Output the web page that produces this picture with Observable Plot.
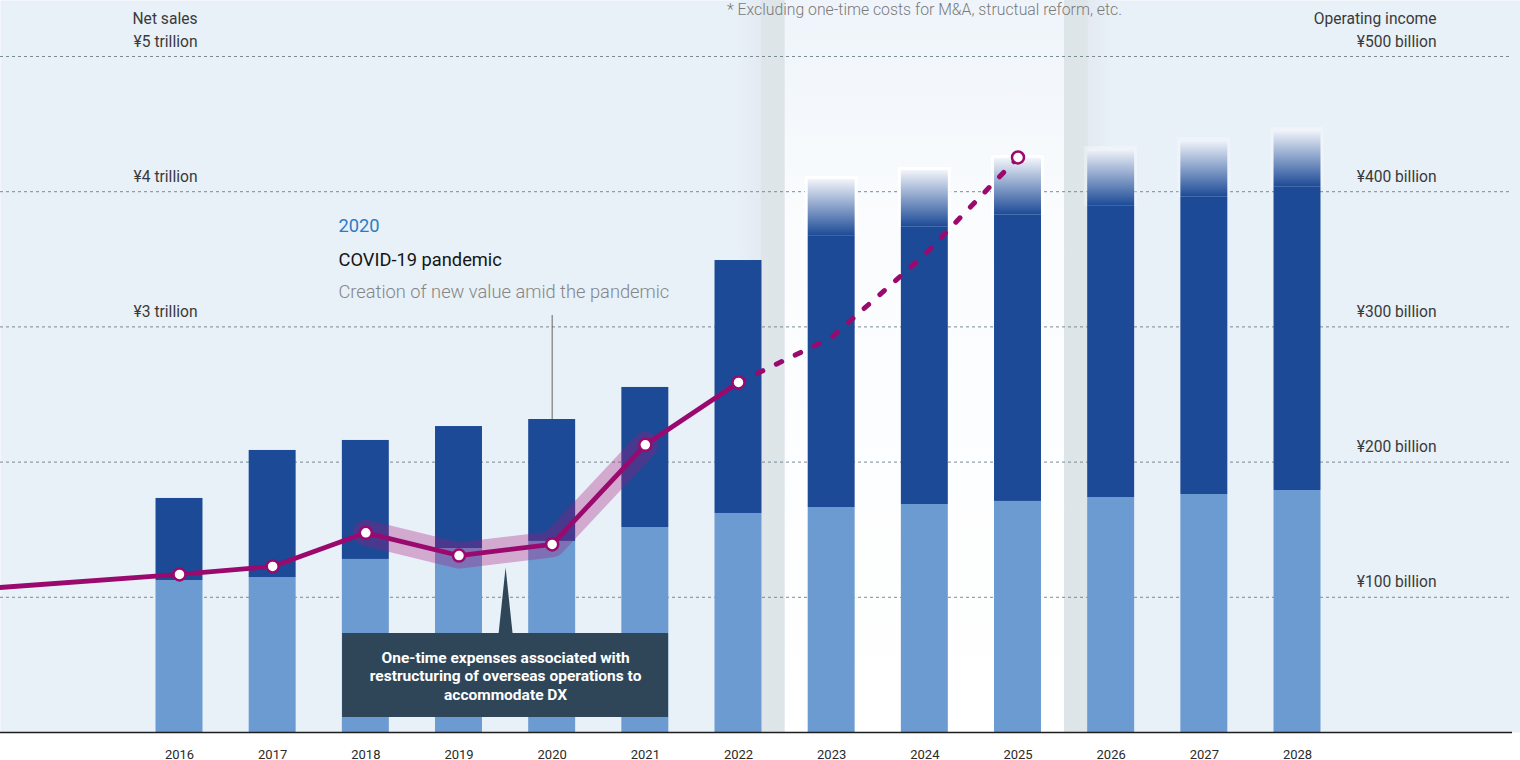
<!DOCTYPE html>
<html>
<head>
<meta charset="utf-8">
<script src="https://cdn.jsdelivr.net/npm/d3@7"></script>
<script src="https://cdn.jsdelivr.net/npm/@observablehq/plot@0.6"></script>
<style>
  html, body { margin: 0; padding: 0; background: #ffffff; }
  #chart svg { display: block; }
</style>
</head>
<body>
<div id="chart"></div>
<script>
// ---- data ----
const years = [2016, 2017, 2018, 2019, 2020, 2021, 2022, 2023, 2024, 2025, 2026, 2027, 2028];
const forecastYears = [2023, 2024, 2025, 2026, 2027, 2028];
const planYears = [2023, 2024, 2025];
// Net sales, ¥ trillion: lower (light) segment and total bar height
const salesLower = [1.124, 1.146, 1.280, 1.361, 1.413, 1.516, 1.620, 1.664, 1.686, 1.709, 1.738, 1.760, 1.790];
const salesTotal = [1.731, 2.086, 2.160, 2.263, 2.315, 2.552, 3.491, 4.090, 4.157, 4.246, 4.312, 4.379, 4.453];
// Operating income, ¥ billion (line enters from the left edge)
const incomeYears = [2014, 2016, 2017, 2018, 2019, 2020, 2021, 2022, 2023, 2024, 2025];
const incomeValues = [106.9, 116.9, 122.8, 147.7, 130.9, 139.1, 212.8, 258.9, 292.2, 353.6, 425.3];
const markerYears = [2016, 2017, 2018, 2019, 2020, 2021, 2022, 2025];
const highlightYears = [2018, 2019, 2020, 2021];
const lastActualYear = 2022;
const leftTicks = [3, 4, 5];
const rightTicks = [1, 2, 3, 4, 5];
const gridTicks = [1, 2, 3, 4, 5];
const calloutYears = [2019, 2020];
const annotationYear = 2020;
const calloutText = "One-time expenses associated with\nrestructuring of overseas operations to\naccommodate DX";
const noteText = "* Excluding one-time costs for M&A, structual reform, etc.";

// ---- derived tables ----
const bars = years.map((y, i) => ({year: y, lower: salesLower[i], total: salesTotal[i], forecast: forecastYears.includes(y)}));
const income = incomeYears.map((y, i) => ({year: y, v: incomeValues[i] / 100}));
const solidLine = income.filter(d => d.year <= lastActualYear);
const dashedLine = income.filter(d => d.year >= lastActualYear);
const markers = income.filter(d => markerYears.includes(d.year));
const highlight = income.filter(d => highlightYears.includes(d.year));

const HW = 0.252;      // half bar width in years
const FADE = 0.42;     // faded top of forecast bars
const DARK = "#1c4a97", LIGHT = "#6b9bd0", MAG = "#9a0a6e", BOX = "#2f4659";
const AXIS_TXT = "#3a3a3a";
const step = 93.17;
const xDomain = [2016 - 179 / step, 2028 + (1520 - 1297) / step];
const planRange = [{a: planYears[0] - 0.5, b: planYears[planYears.length - 1] + 0.5}];
const shadeL = [{a: planYears[0] - 1, b: planYears[0] - 0.5}];
const shadeR = [{a: planYears[planYears.length - 1] + 0.5, b: planYears[planYears.length - 1] + 1}];
const callout = [{c: d3.mean(calloutYears)}];
const annTotal = salesTotal[years.indexOf(annotationYear)];

const bx1 = d => d.year - HW, bx2 = d => d.year + HW;

const plot = Plot.plot({
  width: 1520,
  height: 760,
  marginLeft: 0,
  marginRight: 0,
  marginTop: 56,
  marginBottom: 28,
  style: {fontFamily: "Roboto, 'Noto Sans', sans-serif", background: "transparent", overflow: "visible"},
  x: {type: "linear", domain: xDomain, axis: null},
  y: {domain: [0, 5], axis: null},
  marks: [
    Plot.frame({fill: "#e8f0f8", stroke: "none", insetTop: -56}),
    Plot.rect(planRange, {x1: "a", x2: "b", insetTop: -56, fill: "url(#planGrad)"}),
    Plot.rect(shadeL, {x1: "a", x2: "b", insetTop: -56, fill: "url(#shadeL)"}),
    Plot.rect(shadeR, {x1: "a", x2: "b", insetTop: -56, fill: "url(#shadeR)"}),
    Plot.gridY(gridTicks, {stroke: "#6f7f8a", strokeOpacity: 0.9, strokeDasharray: "3,3", strokeWidth: 1, insetRight: 8}),
    // bars
    Plot.rect(bars.filter(d => d.forecast), {x1: bx1, x2: bx2, y1: d => d.total - FADE, y2: "total",
      insetLeft: -3, insetRight: -3, insetTop: -3, fill: "#ffffff",
      fillOpacity: d => planYears.includes(d.year) ? 0.95 : 0.3}),
    Plot.rect(bars, {x1: bx1, x2: bx2, y1: 0, y2: "lower", fill: LIGHT}),
    Plot.rect(bars, {x1: bx1, x2: bx2, y1: "lower", y2: d => d.forecast ? d.total - FADE : d.total, fill: DARK}),
    Plot.rect(bars.filter(d => d.forecast), {x1: bx1, x2: bx2, y1: d => d.total - FADE, y2: "total", fill: "url(#fadeGrad)"}),
    // operating income line
    Plot.line(highlight, {x: "year", y: "v", stroke: "#a8177c", strokeOpacity: 0.33, strokeWidth: 26,
      strokeLinecap: "round", strokeLinejoin: "round"}),
    Plot.line(solidLine, {x: "year", y: "v", stroke: MAG, strokeWidth: 4.8, strokeLinejoin: "round"}),
    Plot.line(dashedLine, {x: "year", y: "v", stroke: MAG, strokeWidth: 5, strokeDasharray: "6,15",
      strokeLinecap: "round", strokeLinejoin: "round"}),
    Plot.dot(markers, {x: "year", y: "v", r: 6, fill: "#ffffff", stroke: MAG, strokeWidth: 2.5}),
    Plot.ruleY([0], {stroke: "#1e1e1e", strokeWidth: 1.5, insetRight: 8}),
    // axes
    Plot.axisX({ticks: years, tickFormat: d => String(d), tickSize: 0, tickPadding: 17, fontSize: 13, fill: "#2a2a2a"}),
    Plot.axisY({anchor: "left", ticks: leftTicks, tickFormat: d => `¥${d} trillion`, tickSize: 0,
      textAnchor: "end", dx: 206, dy: -15, fontSize: 15.6, fill: AXIS_TXT}),
    Plot.axisY({anchor: "right", ticks: rightTicks, tickFormat: d => `¥${d * 100} billion`, tickSize: 0,
      textAnchor: "end", dx: -93, dy: -15, fontSize: 15.6, fill: AXIS_TXT}),
    Plot.text(["Net sales"], {frameAnchor: "top-left", dx: 197, dy: -38, textAnchor: "end", lineAnchor: "middle", fontSize: 15.6, fill: AXIS_TXT}),
    Plot.text(["Operating income"], {frameAnchor: "top-right", dx: -84, dy: -38, textAnchor: "end", lineAnchor: "middle", fontSize: 15.6, fill: AXIS_TXT}),
    Plot.text([noteText], {frameAnchor: "top", dx: 164, dy: -47, lineAnchor: "middle", fontSize: 15.8, fontWeight: 300, fill: "#7a7a7a"}),
    // 2020 annotation
    Plot.ruleX([annotationYear], {y1: () => 5, y2: () => annTotal, insetTop: 259, stroke: "#666", strokeWidth: 1}),
    Plot.text([String(annotationYear)], {frameAnchor: "top-left", dx: 338, dy: 170, textAnchor: "start", lineAnchor: "middle", fontSize: 18.3, fill: "#2b7cc4"}),
    Plot.text(["COVID-19 pandemic"], {frameAnchor: "top-left", dx: 338, dy: 204, textAnchor: "start", lineAnchor: "middle", fontSize: 18.3, fontWeight: 400, fill: "#151515"}),
    Plot.text(["Creation of new value amid the pandemic"], {frameAnchor: "top-left", dx: 338, dy: 236, textAnchor: "start", lineAnchor: "middle", fontSize: 18.3, fontWeight: 300, fill: "#858585"}),
    // callout
    Plot.vector(callout, {x: "c", frameAnchor: "bottom", dy: -99, length: 66, rotate: 0, shape: "spike", r: 7, anchor: "start", fill: BOX, stroke: "none"}),
    Plot.rect(callout, {x1: "c", x2: "c", insetLeft: -163, insetRight: -163, insetTop: 577, insetBottom: 15, fill: BOX}),
    Plot.text(callout, {x: "c", frameAnchor: "bottom", dy: -57, lineAnchor: "middle", text: () => calloutText, fill: "#ffffff",
      fontSize: 15.5, fontWeight: 700, lineHeight: 1.2})
  ]
});

const defs = `
<linearGradient id="planGrad" x1="0" y1="0" x2="0" y2="1">
  <stop offset="0" stop-color="#eef4fa"/>
  <stop offset="0.3" stop-color="#fafcfe"/>
  <stop offset="1" stop-color="#ffffff"/>
</linearGradient>
<linearGradient id="shadeL" x1="0" y1="0" x2="1" y2="0">
  <stop offset="0" stop-color="#e8f0f8"/>
  <stop offset="0.49" stop-color="#e3eaf1"/>
  <stop offset="0.5" stop-color="#dfe6ea"/>
  <stop offset="1" stop-color="#dee5e9"/>
</linearGradient>
<linearGradient id="shadeR" x1="0" y1="0" x2="1" y2="0">
  <stop offset="0" stop-color="#dee5e9"/>
  <stop offset="0.5" stop-color="#dfe6ea"/>
  <stop offset="0.51" stop-color="#e3eaf1"/>
  <stop offset="1" stop-color="#e8f0f8"/>
</linearGradient>
<linearGradient id="fadeGrad" x1="0" y1="0" x2="0" y2="1">
  <stop offset="0" stop-color="#f2f5fa"/>
  <stop offset="1" stop-color="${DARK}"/>
</linearGradient>`;
d3.select(plot).insert("defs", ":first-child").html(defs);
document.getElementById("chart").appendChild(plot);
</script>
</body>
</html>
